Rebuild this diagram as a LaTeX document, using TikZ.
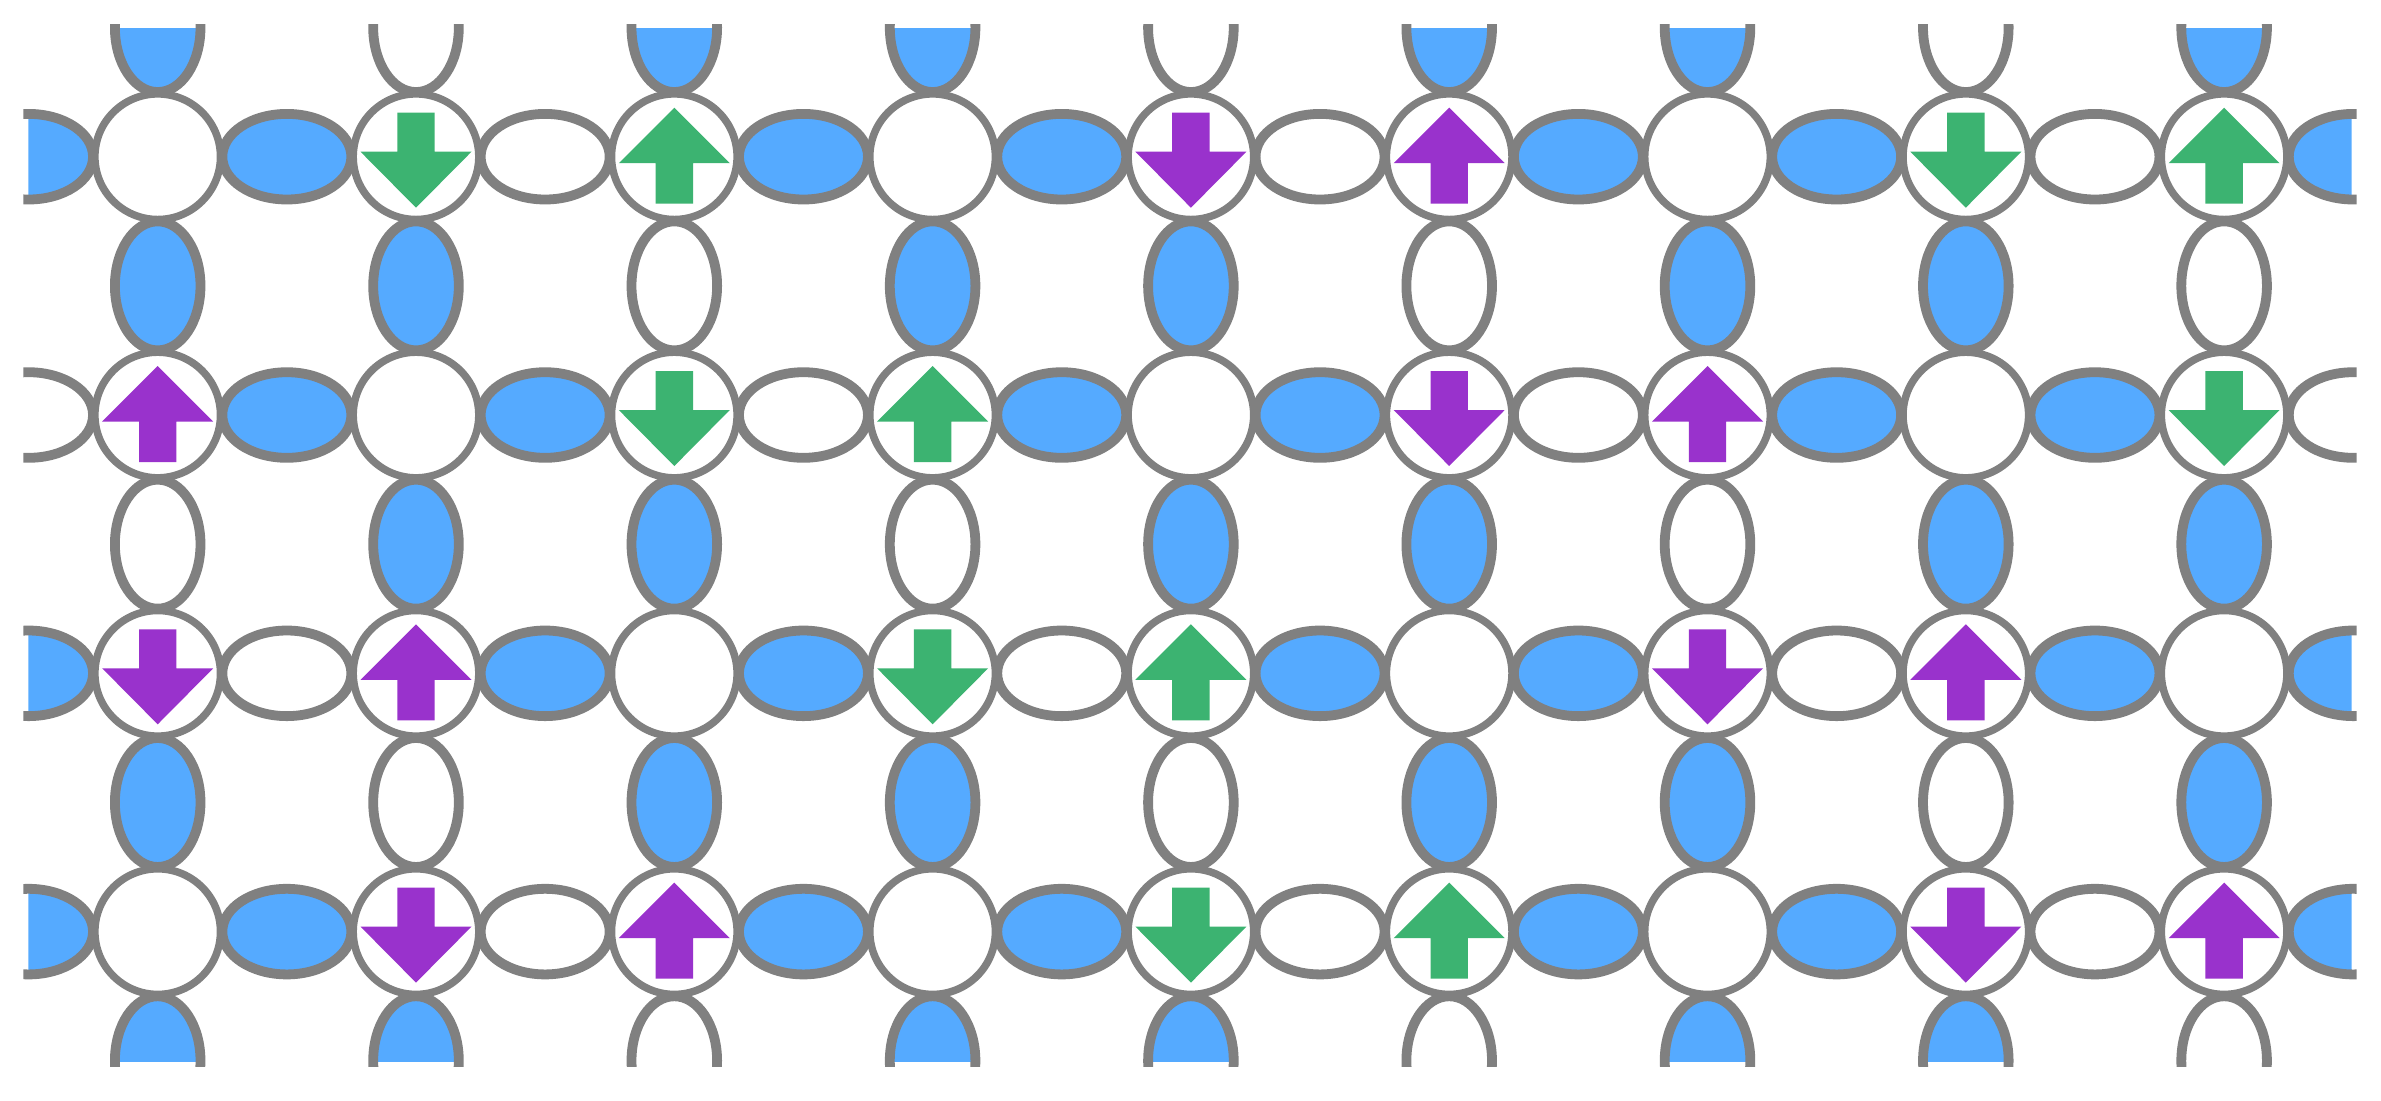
\documentclass[tikz,border=0pt]{standalone}
\usetikzlibrary{shapes.geometric}
\definecolor{bondblue}{RGB}{85,170,255}
\definecolor{gridgray}{RGB}{128,128,128}
\definecolor{arrgreen}{RGB}{60,179,113}
\definecolor{arrpurple}{RGB}{153,50,204}
\tikzset{
  site/.style={circle, draw=gridgray, fill=white, line width=3.75pt, minimum size=62.8pt, inner sep=0pt, outer sep=0pt},
  hfill/.style={ellipse, draw=none, fill=bondblue, minimum width=64.5pt, minimum height=42.8pt, inner sep=0pt, outer sep=0pt},
  vfill/.style={ellipse, draw=none, fill=bondblue, minimum width=42.8pt, minimum height=64.5pt, inner sep=0pt, outer sep=0pt},
  hline/.style={ellipse, draw=gridgray, line width=4.9pt, minimum width=64.5pt, minimum height=42.8pt, inner sep=0pt, outer sep=0pt},
  vline/.style={ellipse, draw=gridgray, line width=4.9pt, minimum width=42.8pt, minimum height=64.5pt, inner sep=0pt, outer sep=0pt},
  arrdn/.pic={\fill[#1] (-18.7,-44) -- (18.7,-44) -- (18.7,-5) -- (55.5,-5) -- (0,51) -- (-55.5,-5) -- (-18.7,-5) -- cycle;},
  arrup/.pic={\fill[#1] (0,-49) -- (55.5,6.5) -- (18.7,6.5) -- (18.7,47) -- (-18.7,47) -- (-18.7,6.5) -- (-55.5,6.5) -- cycle;}
}
\begin{document}
\begin{tikzpicture}[x=0.5pt,y=-0.5pt]
\useasboundingbox (0,0) rectangle (2381,1100);
% blue fills of the bonds
\begin{scope}
\clip (28.3,28.3) rectangle (2351.7,1061.7);
\foreach \r/\row in {0/{1,1,0,1,1,0,1,1,0,1},1/{0,1,1,0,1,1,0,1,1,0},2/{1,0,1,1,0,1,1,0,1,1},3/{1,1,0,1,1,0,1,1,0,1}}{
  \foreach \f [count=\k from 0] in \row {
    \ifnum\f=1 \node[hfill] (hf\r\k) at ({28.55+258.3*\k},{156.7+258.3*\r}) {}; \fi
  }
}
\foreach \j/\row in {0/{1,0,1,1,0,1,1,0,1},1/{1,1,0,1,1,0,1,1,0},2/{0,1,1,0,1,1,0,1,1},3/{1,0,1,1,0,1,1,0,1},4/{1,1,0,1,1,0,1,1,0}}{
  \foreach \f [count=\c from 0] in \row {
    \ifnum\f=1 \node[vfill] (vf\j\c) at ({157.7+258.3*\c},{27.55+258.3*\j}) {}; \fi
  }
}
\end{scope}
% outlines of the bonds
\begin{scope}
\clip (23.3,24) rectangle (2356.7,1066.7);
\foreach \r in {0,...,3}{
  \foreach \k in {0,...,9}{
    \node[hline] (h\r\k) at ({28.55+258.3*\k},{156.7+258.3*\r}) {};
  }
}
\foreach \j in {0,...,4}{
  \foreach \c in {0,...,8}{
    \node[vline] (v\j\c) at ({157.7+258.3*\c},{27.55+258.3*\j}) {};
  }
}
\end{scope}
% sites
\foreach \r in {0,...,3}{
  \foreach \c in {0,...,8}{
    \node[site] (s\r\c) at ({157.7+258.3*\c},{156.7+258.3*\r}) {};
  }
}
% spins
\foreach \r/\c/\col in {0/1/arrgreen,0/4/arrpurple,0/7/arrgreen,1/2/arrgreen,1/5/arrpurple,1/8/arrgreen,2/0/arrpurple,2/3/arrgreen,2/6/arrpurple,3/1/arrpurple,3/4/arrgreen,3/7/arrpurple}{
  \pic at (s\r\c) {arrdn=\col};
}
\foreach \r/\c/\col in {0/2/arrgreen,0/5/arrpurple,0/8/arrgreen,1/0/arrpurple,1/3/arrgreen,1/6/arrpurple,2/1/arrpurple,2/4/arrgreen,2/7/arrpurple,3/2/arrpurple,3/5/arrgreen,3/8/arrpurple}{
  \pic at (s\r\c) {arrup=\col};
}
\end{tikzpicture}
\end{document}
